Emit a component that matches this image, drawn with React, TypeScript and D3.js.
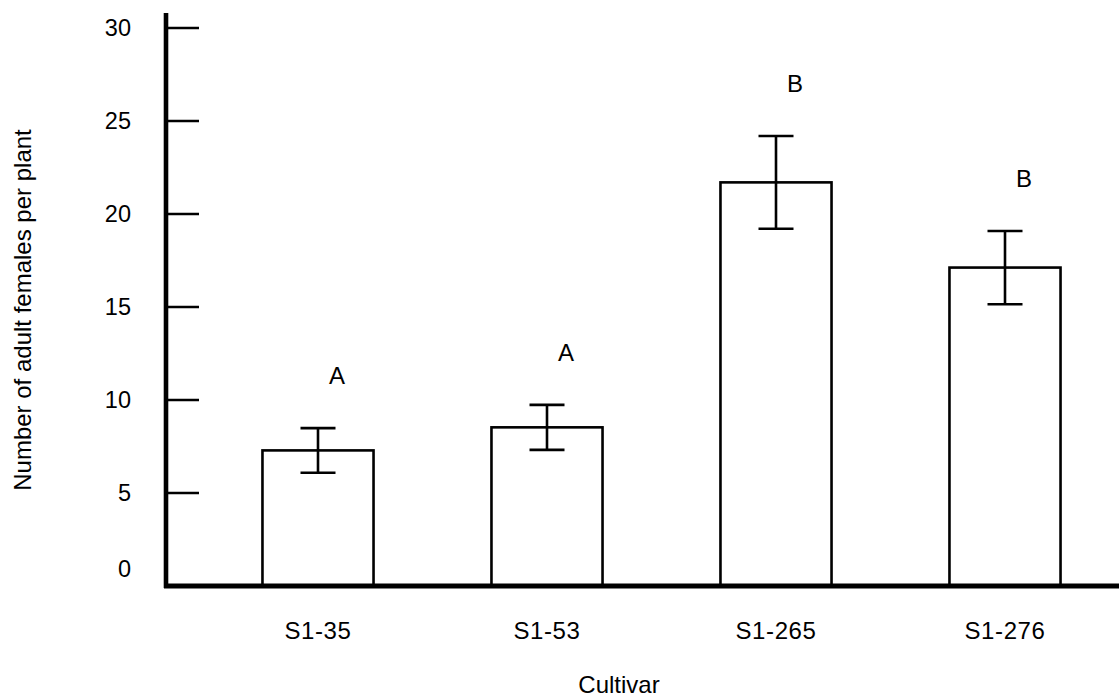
import React from "react";
import * as d3 from "d3";

// Mean number of adult females per plant, by cultivar
const cultivars = ["S1-35", "S1-53", "S1-265", "S1-276"];
const means = [7.29, 8.53, 21.7, 17.12];
const errors = [1.2, 1.21, 2.49, 1.97];
const groupLetters = ["A", "A", "B", "B"];
const yTicks = [0, 5, 10, 15, 20, 25, 30];

const W = 1119;
const H = 698;
const FONT = "'Liberation Sans', Arial, sans-serif";

export default function App() {
  const axisX = 166;
  const y = d3.scaleLinear().domain([0, 30]).range([586, 28]);
  const x = d3
    .scaleBand<string>()
    .domain(cultivars)
    .range([203.5, 1119.5])
    .paddingInner(0.515)
    .paddingOuter(0.2575);
  const bw = x.bandwidth();
  const capHalf = 17.5;

  return (
    <svg
      width={W}
      height={H}
      style={{ position: "absolute", left: 0, top: 0, background: "#fff" }}
      fontFamily={FONT}
    >
      {/* bars */}
      {cultivars.map((c, i) => (
        <rect
          key={c}
          x={x(c)}
          y={y(means[i])}
          width={bw}
          height={y(0) - y(means[i])}
          fill="#fff"
          stroke="#000"
          strokeWidth={2.6}
        />
      ))}
      {/* error bars */}
      {cultivars.map((c, i) => {
        const cx = (x(c) as number) + bw / 2;
        const top = y(means[i] + errors[i]);
        const bot = y(means[i] - errors[i]);
        return (
          <g key={c} stroke="#000" strokeWidth={2.6}>
            <line x1={cx} x2={cx} y1={top} y2={bot} />
            <line x1={cx - capHalf} x2={cx + capHalf} y1={top} y2={top} />
            <line x1={cx - capHalf} x2={cx + capHalf} y1={bot} y2={bot} />
          </g>
        );
      })}
      {/* significance letters */}
      {cultivars.map((c, i) => (
        <text
          key={c}
          x={(x(c) as number) + bw / 2 + 19}
          y={y(means[i] + errors[i]) - 52}
          dy="0.35em"
          textAnchor="middle"
          fontSize={24}
        >
          {groupLetters[i]}
        </text>
      ))}
      {/* y axis */}
      <line x1={axisX} x2={axisX} y1={13} y2={588} stroke="#000" strokeWidth={4.6} />
      {yTicks.map((t) => (
        <g key={t}>
          {t > 0 && (
            <line x1={axisX} x2={199} y1={y(t)} y2={y(t)} stroke="#000" strokeWidth={2.6} />
          )}
          <text
            x={131}
            y={y(t) + (t === 0 ? -17 : 0)}
            dy="0.35em"
            textAnchor="end"
            fontSize={23.5}
          >
            {t}
          </text>
        </g>
      ))}
      {/* x axis */}
      <line x1={164} x2={W} y1={y(0)} y2={y(0)} stroke="#000" strokeWidth={4.8} />
      {cultivars.map((c) => (
        <text
          key={c}
          x={(x(c) as number) + bw / 2}
          y={639}
          textAnchor="middle"
          fontSize={24}
          letterSpacing={0.6}
        >
          {c}
        </text>
      ))}
      <text x={619} y={693} textAnchor="middle" fontSize={24}>
        Cultivar
      </text>
      <text
        transform="translate(31,310) rotate(-90)"
        textAnchor="middle"
        fontSize={24}
      >
        Number of adult females per plant
      </text>
    </svg>
  );
}
